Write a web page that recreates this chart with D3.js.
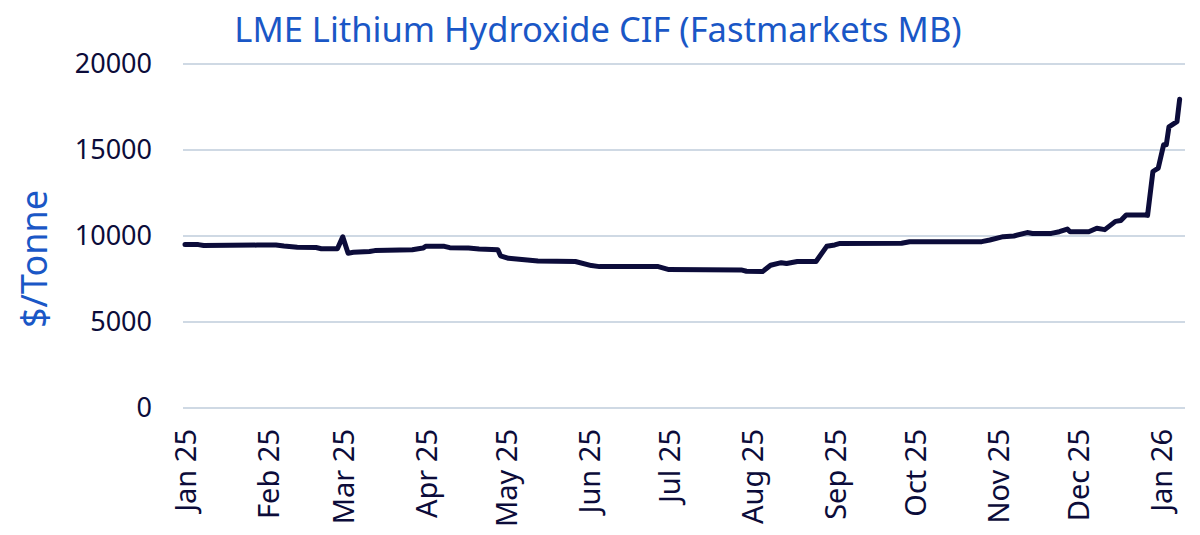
<!DOCTYPE html>
<html>
<head>
<meta charset="utf-8">
<script src="https://cdn.jsdelivr.net/npm/d3@7"></script>
<style>
  body { margin: 0; background: #fff; }
  svg { display: block; font-family: "Noto Sans", sans-serif; }
</style>
</head>
<body>
<svg width="1200" height="535"></svg>
<script>
// price points ($/tonne)
const dates = [
  "2025-01-01","2025-01-06","2025-01-08","2025-01-28","2025-02-04","2025-02-07","2025-02-12",
  "2025-02-19","2025-02-21","2025-02-27","2025-03-01","2025-03-03","2025-03-05","2025-03-11",
  "2025-03-13","2025-03-27","2025-03-31","2025-04-01","2025-04-08","2025-04-10","2025-04-17",
  "2025-04-21","2025-04-28","2025-04-29","2025-05-02","2025-05-09","2025-05-13","2025-05-27",
  "2025-06-02","2025-06-05","2025-06-27","2025-07-01","2025-07-28","2025-07-30","2025-08-05",
  "2025-08-08","2025-08-12","2025-08-14","2025-08-18","2025-08-25","2025-08-29","2025-09-01",
  "2025-09-03","2025-09-26","2025-09-29","2025-10-26","2025-10-29","2025-11-03","2025-11-07",
  "2025-11-12","2025-11-14","2025-11-21","2025-11-24","2025-11-27","2025-11-28","2025-12-05",
  "2025-12-08","2025-12-11","2025-12-15","2025-12-17","2025-12-19","2025-12-26","2025-12-27",
  "2025-12-29","2025-12-31","2026-01-02","2026-01-03","2026-01-04","2026-01-07","2026-01-08"
];
const prices = [
  9500, 9500, 9450, 9470, 9480, 9420, 9350,
  9330, 9260, 9260, 9950, 9000, 9050, 9100,
  9150, 9200, 9300, 9400, 9400, 9320, 9300,
  9250, 9200, 8850, 8700, 8600, 8550, 8520,
  8280, 8220, 8220, 8050, 8030, 7950, 7930,
  8300, 8450, 8400, 8520, 8520, 9400, 9480,
  9570, 9580, 9670, 9670, 9770, 9960, 10000,
  10200, 10150, 10150, 10250, 10400, 10250, 10250,
  10450, 10370, 10850, 10900, 11220, 11220, 11200,
  13750, 13950, 15300, 15300, 16350, 16650, 17950
];
const yTicks = [0, 5000, 10000, 15000, 20000];
const monthTicks = ["2025-01-01","2025-02-01","2025-03-01","2025-04-01","2025-05-01","2025-06-01",
  "2025-07-01","2025-08-01","2025-09-01","2025-10-01","2025-11-01","2025-12-01","2026-01-01"];

const title = "LME Lithium Hydroxide CIF (Fastmarkets MB)";
const yTitle = "$/Tonne";

const parse = d3.utcParse("%Y-%m-%d");
const data = dates.map((d, i) => ({ date: parse(d), value: prices[i] }));

const svg = d3.select("svg");
const navy = "#0c0c3a";
const blue = "#1a57c6";

const x = d3.scaleUtc()
  .domain([parse("2025-01-01"), parse("2026-01-10")])
  .range([185, 1185]);
const y = d3.scaleLinear().domain([0, 20000]).range([408, 64]);

// gridlines
svg.append("g")
  .selectAll("line")
  .data(yTicks)
  .join("line")
  .attr("x1", 183)
  .attr("x2", 1185)
  .attr("y1", d => y(d))
  .attr("y2", d => y(d))
  .attr("stroke", "#bfcddb")
  .attr("stroke-width", 1.6);

// y axis labels
const yAxis = svg.append("g")
  .attr("transform", "translate(152,0)")
  .call(d3.axisLeft(y).tickValues(yTicks).tickSize(0).tickPadding(0).tickFormat(d3.format("d")));
yAxis.select(".domain").remove();
yAxis.selectAll("text")
  .attr("fill", navy)
  .attr("font-size", 27)
  .attr("font-family", "Noto Sans, sans-serif");

// x axis labels (rotated)
const xAxis = svg.append("g")
  .attr("transform", "translate(0,429)")
  .call(d3.axisBottom(x).tickValues(monthTicks.map(parse)).tickSize(0).tickFormat(d3.utcFormat("%b %y")));
xAxis.select(".domain").remove();
xAxis.selectAll("text")
  .attr("fill", navy)
  .attr("font-size", 29)
  .attr("font-family", "Noto Sans, sans-serif")
  .attr("text-anchor", "end")
  .attr("transform", "rotate(-90)")
  .attr("x", 0)
  .attr("y", 0)
  .attr("dx", 0)
  .attr("dy", "0.36em");

// price line
const line = d3.line()
  .x(d => x(d.date))
  .y(d => y(d.value));

svg.append("path")
  .datum(data)
  .attr("fill", "none")
  .attr("stroke", navy)
  .attr("stroke-width", 5)
  .attr("stroke-linejoin", "round")
  .attr("stroke-linecap", "round")
  .attr("d", line);

// title
svg.append("text")
  .attr("x", 598)
  .attr("y", 42)
  .attr("text-anchor", "middle")
  .attr("fill", blue)
  .attr("font-size", 34.5)
  .text(title);

// y axis title
svg.append("text")
  .attr("transform", "translate(47,259) rotate(-90)")
  .attr("text-anchor", "middle")
  .attr("fill", blue)
  .attr("font-size", 36)
  .text(yTitle);
</script>
</body>
</html>
